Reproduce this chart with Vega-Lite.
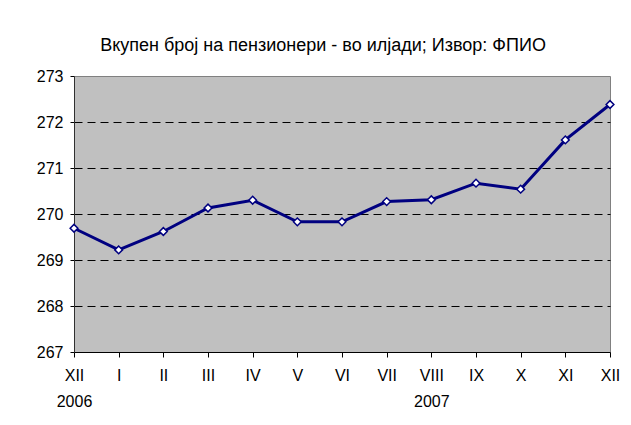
{
  "$schema": "https://vega.github.io/schema/vega-lite/v6.json",
  "width": 536,
  "height": 276,
  "autosize": {"type": "none"},
  "padding": {"left": 74, "top": 76, "right": 21, "bottom": 73},
  "background": "white",
  "title": {
    "text": "Вкупен број на пензионери - во илјади; Извор: ФПИО",
    "fontSize": 18,
    "fontWeight": "normal",
    "font": "Liberation Sans",
    "color": "black",
    "anchor": "middle",
    "frame": "bounds",
    "offset": 13,
    "dx": -5
  },
  "config": {
    "view": {"fill": "#C0C0C0", "stroke": "#808080", "strokeWidth": 1},
    "axis": {
      "labelFont": "Liberation Sans",
      "labelFontSize": 16,
      "labelColor": "black",
      "tickColor": "black",
      "domainColor": "#303030",
      "title": null
    }
  },
  "data": {
    "values": [
      {"period": "XII-2006", "value": 269.69},
      {"period": "I-2007", "value": 269.22},
      {"period": "II-2007", "value": 269.62},
      {"period": "III-2007", "value": 270.13},
      {"period": "IV-2007", "value": 270.30},
      {"period": "V-2007", "value": 269.83},
      {"period": "VI-2007", "value": 269.83},
      {"period": "VII-2007", "value": 270.27},
      {"period": "VIII-2007", "value": 270.31},
      {"period": "IX-2007", "value": 270.67},
      {"period": "X-2007", "value": 270.54},
      {"period": "XI-2007", "value": 271.61},
      {"period": "XII-2007", "value": 272.38}
    ]
  },
  "encoding": {
    "x": {
      "field": "period",
      "type": "ordinal",
      "sort": null,
      "scale": {"type": "point", "padding": 0},
      "axis": {
        "labelAngle": 0,
        "tickSize": 5,
        "labelPadding": 10,
        "labelLineHeight": 26,
        "labelBaseline": "top",
        "domainColor": "black",
        "labelExpr": "datum.value == 'XII-2006' ? ['XII', '2006'] : datum.value == 'VIII-2007' ? ['VIII', '2007'] : split(datum.value, '-')[0]"
      }
    },
    "y": {
      "field": "value",
      "type": "quantitative",
      "scale": {"domain": [267, 273], "nice": false, "zero": false},
      "axis": {
        "values": [267, 268, 269, 270, 271, 272, 273],
        "tickSize": 4,
        "labelPadding": 7,
        "grid": true,
        "gridColor": "black",
        "gridDash": [8, 5],
        "gridWidth": 1,
        "gridOpacity": {"condition": {"test": "datum.value == 267 || datum.value == 273", "value": 0}, "value": 1}
      }
    }
  },
  "layer": [
    {"mark": {"type": "line", "color": "#000080", "strokeWidth": 3}},
    {"mark": {"type": "point", "shape": "diamond", "filled": true, "fill": "white", "stroke": "#000080", "strokeWidth": 1.5, "size": 60, "opacity": 1}}
  ]
}
